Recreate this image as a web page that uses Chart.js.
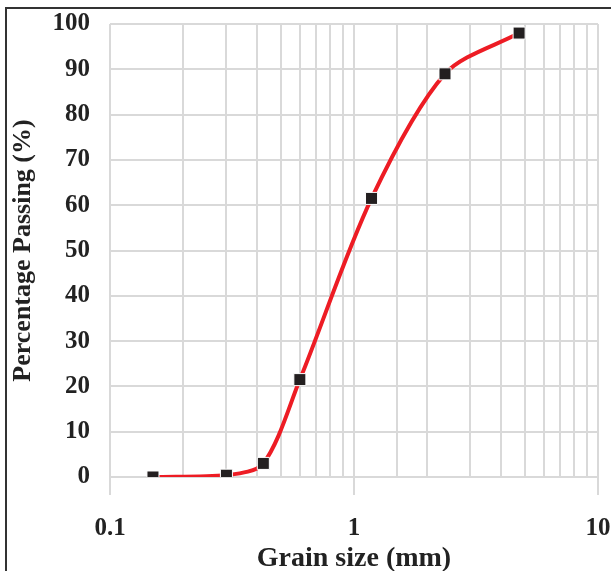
<!DOCTYPE html>
<html>
<head>
<meta charset="utf-8">
<script src="https://cdn.jsdelivr.net/npm/chart.js@4.4.1/dist/chart.umd.min.js"></script>
<style>
  html, body { margin: 0; padding: 0; background: #fff; }
  #wrap { position: relative; width: 611px; height: 571px; overflow: hidden; }
  #frame { position: absolute; left: 5px; top: 7px; width: 640px; height: 600px; border: 2px solid #333; box-sizing: border-box; }
  #myChart { position: absolute; left: 0; top: 0; }
</style>
</head>
<body>
<div id="wrap">
  <div id="frame"></div>
  <canvas id="myChart" width="611" height="571"></canvas>
</div>
<script>
// grain sizes (mm) and percentage passing
var sizes = [0.15, 0.3, 0.425, 0.6, 1.18, 2.36, 4.75];
var passing = [0, 0.4, 3, 21.5, 61.5, 89, 98];
var decadeLabels = [0.1, 1, 10];

var ctx = document.getElementById("myChart");
var fontFam = "'Liberation Serif', 'DejaVu Serif', serif";

function isDecade(v) {
    return decadeLabels.some(function (d) { return Math.abs(v - d) < 1e-9; });
}

var points = sizes.map(function (s, i) { return { x: s, y: passing[i] }; });

var myChart = new Chart(ctx, {
    type: 'scatter',
    data: {
        datasets: [
            {
                data: points,
                showLine: true,
                borderColor: "#ed1c24",
                borderWidth: 4,
                tension: 0.3,
                pointStyle: 'rect',
                pointRadius: 8.5,
                pointBackgroundColor: "#231f20",
                pointBorderColor: "#ffffff",
                pointBorderWidth: 1
            }
        ]
    },
    options: {
        responsive: false,
        animation: false,
        layout: { padding: { left: 8, right: 13, top: 24, bottom: 0 } },
        plugins: { legend: { display: false }, tooltip: { enabled: false } },
        scales: {
            x: {
                type: 'logarithmic',
                min: 0.1,
                max: 10,
                afterFit: function (scale) {
                    scale.height = 94;
                    scale.paddingLeft = 0;
                    scale.paddingRight = 0;
                },
                grid: {
                    color: "#d9d9d9",
                    lineWidth: 2,
                    tickLength: 18,
                    tickColor: function (c) {
                        return c.tick && isDecade(c.tick.value) ? "#d9d9d9" : "rgba(0,0,0,0)";
                    }
                },
                border: { display: false },
                ticks: {
                    autoSkip: false,
                    maxRotation: 0,
                    padding: 19,
                    color: "#222",
                    font: { family: fontFam, size: 25, weight: 'bold' },
                    callback: function (v) { return isDecade(v) ? String(v) : ''; }
                },
                title: {
                    display: true,
                    text: "Grain size (mm)",
                    color: "#222",
                    font: { family: fontFam, size: 28, weight: 'bold', lineHeight: 0.9 },
                    padding: 0
                }
            },
            y: {
                min: 0,
                max: 100,
                afterFit: function (scale) {
                    scale.width = 102;
                    scale.paddingTop = 0;
                    scale.paddingBottom = 0;
                },
                grid: { color: "#d9d9d9", lineWidth: 2, drawTicks: false },
                border: { display: false },
                ticks: {
                    stepSize: 10,
                    padding: 20,
                    color: "#222",
                    font: { family: fontFam, size: 25, weight: 'bold' }
                },
                title: {
                    display: true,
                    text: "Percentage Passing (%)",
                    color: "#222",
                    font: { family: fontFam, size: 26, weight: 'bold' },
                    padding: 0
                }
            }
        }
    }
});
</script>
</body>
</html>
